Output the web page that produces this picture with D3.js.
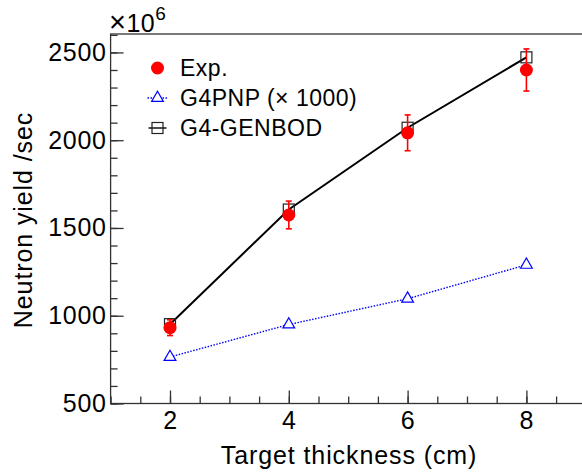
<!doctype html>
<html lang="en">
<head>
  <meta charset="utf-8">
  <style>
    body { margin: 0; background-color: white; }
    svg { display: block; background-color: white; font-family: "Liberation Sans", Arial, sans-serif; }
    .axis text { font-size: 25px; letter-spacing: 0.7px; fill: black; }
    .axis path, .axis line { stroke: #333; stroke-width: 1.3px; }
    .title { font-size: 25px; letter-spacing: 0.9px; }
  </style>
</head>
<body>
<script src="https://d3js.org/d3.v7.min.js"></script>
<script>
var width = 582,
    height = 474;

// thickness in cm
var thickness = [2, 4, 6, 8];
// measured neutron yield (x10^6 /sec) and its errors
var expYield = [932, 1574, 2042, 2400];
var expErr = [45, 79, 102, 120];
// simulations
var pnpYield = [765, 950, 1097, 1290];
var genbodYield = [952, 1605, 2071, 2472];

var xTicks = [2, 4, 6, 8];
var yTicks = [500, 1000, 1500, 2000, 2500];

var legendNames = ["Exp.", "G4PNP (\u00d7 1000)", "G4-GENBOD"];

var x = d3.scaleLinear().domain([1, 9]).range([110.6, 585.8]);
var y = d3.scaleLinear().domain([500, 2605]).range([403.5, 34]);

var svg = d3.select("body").append("svg")
  .attr("width", width)
  .attr("height", height);

// frame
svg.append("rect")
  .attr("x", x(1)).attr("y", y(2605))
  .attr("width", x(9) - x(1)).attr("height", y(500) - y(2605))
  .attr("fill", "none").attr("stroke", "#333").attr("stroke-width", 1.3);

// minor ticks
svg.append("g").attr("class", "axis")
  .attr("transform", "translate(0," + y(500) + ")")
  .call(d3.axisBottom(x).tickValues(d3.range(1, 9.01, 0.5)).tickSize(-7).tickFormat(""))
  .call(function(g) { g.select(".domain").remove(); });
svg.append("g").attr("class", "axis")
  .attr("transform", "translate(" + x(1) + ",0)")
  .call(d3.axisLeft(y).tickValues(d3.range(500, 2601, 100)).tickSize(-7).tickFormat(""))
  .call(function(g) { g.select(".domain").remove(); });

// major ticks
svg.append("g").attr("class", "axis")
  .attr("transform", "translate(0," + y(500) + ")")
  .call(d3.axisBottom(x).tickValues(xTicks).tickSizeInner(-13).tickSizeOuter(0).tickPadding(8))
  .call(function(g) { g.select(".domain").remove(); });
svg.append("g").attr("class", "axis")
  .attr("transform", "translate(" + x(1) + ",0)")
  .call(d3.axisLeft(y).tickValues(yTicks).tickFormat(d3.format("d"))
    .tickSizeInner(-13).tickSizeOuter(0).tickPadding(4))
  .call(function(g) { g.select(".domain").remove(); });

// exponent
var expo = svg.append("text")
  .attr("x", 109).attr("y", 31.5)
  .style("letter-spacing", "0.5px");
expo.append("tspan").style("font-size", "29px").text("\u00d7");
expo.append("tspan").style("font-size", "25px").text("10");
expo.append("tspan").attr("dy", -12).style("font-size", "19px").text("6");

// axis titles
svg.append("text")
  .attr("class", "title")
  .attr("x", 349).attr("y", 464)
  .attr("text-anchor", "middle")
  .text("Target thickness (cm)");

svg.append("text")
  .attr("class", "title")
  .attr("transform", "translate(31.5,220)rotate(-90)")
  .attr("text-anchor", "middle")
  .text("Neutron yield /sec");

// G4PNP dotted line
var line = d3.line()
  .x(function(d) { return x(d[0]); })
  .y(function(d) { return y(d[1]); });

svg.append("path")
  .datum(d3.zip(thickness, pnpYield))
  .attr("d", line)
  .attr("fill", "none")
  .attr("stroke", "#0000ff")
  .attr("stroke-width", 1.4)
  .attr("stroke-dasharray", "1.5,1.5");

var tri = d3.symbol().type(d3.symbolTriangle).size(60);
svg.selectAll(".pnp")
  .data(d3.zip(thickness, pnpYield))
  .enter().append("path")
  .attr("class", "pnp")
  .attr("d", tri)
  .attr("transform", function(d) { return "translate(" + x(d[0]) + "," + y(d[1]) + ")"; })
  .attr("fill", "white")
  .attr("stroke", "#0000ff")
  .attr("stroke-width", 1.2);

// GENBOD solid line
svg.append("path")
  .datum(d3.zip(thickness, genbodYield))
  .attr("d", line)
  .attr("fill", "none")
  .attr("stroke", "black")
  .attr("stroke-width", 2);

svg.selectAll(".gen")
  .data(d3.zip(thickness, genbodYield))
  .enter().append("rect")
  .attr("class", "gen")
  .attr("x", function(d) { return x(d[0]) - 5.5; })
  .attr("y", function(d) { return y(d[1]) - 5.5; })
  .attr("width", 11).attr("height", 11)
  .attr("fill", "none")
  .attr("stroke", "#222")
  .attr("stroke-width", 1.2);

// experimental points with error bars
var ex = svg.selectAll(".exp")
  .data(d3.zip(thickness, expYield, expErr))
  .enter().append("g")
  .attr("class", "exp");

ex.append("line")
  .attr("x1", function(d) { return x(d[0]); })
  .attr("x2", function(d) { return x(d[0]); })
  .attr("y1", function(d) { return y(d[1] - d[2]); })
  .attr("y2", function(d) { return y(d[1] + d[2]); })
  .attr("stroke", "#ff0000").attr("stroke-width", 1.6);
[-1, 1].forEach(function(s) {
  ex.append("line")
    .attr("x1", function(d) { return x(d[0]) - 3; })
    .attr("x2", function(d) { return x(d[0]) + 3; })
    .attr("y1", function(d) { return y(d[1] + s * d[2]); })
    .attr("y2", function(d) { return y(d[1] + s * d[2]); })
    .attr("stroke", "#ff0000").attr("stroke-width", 1.6);
});
ex.append("circle")
  .attr("cx", function(d) { return x(d[0]); })
  .attr("cy", function(d) { return y(d[1]); })
  .attr("r", 6.5)
  .attr("fill", "#ff0000");

// legend
var lx = 157.5, ly = [68, 98, 128];
svg.append("circle").attr("cx", lx).attr("cy", ly[0]).attr("r", 6.5).attr("fill", "#ff0000");
svg.append("line")
  .attr("x1", lx - 10).attr("x2", lx + 10).attr("y1", ly[1]).attr("y2", ly[1])
  .attr("stroke", "#0000ff").attr("stroke-width", 1.4).attr("stroke-dasharray", "1.5,1.5");
svg.append("path").attr("d", tri)
  .attr("transform", "translate(" + lx + "," + ly[1] + ")")
  .attr("fill", "white").attr("stroke", "#0000ff").attr("stroke-width", 1.2);
svg.append("line")
  .attr("x1", lx - 9).attr("x2", lx + 9).attr("y1", ly[2]).attr("y2", ly[2])
  .attr("stroke", "black").attr("stroke-width", 1.4);
svg.append("rect")
  .attr("x", lx - 5.5).attr("y", ly[2] - 5.5).attr("width", 11).attr("height", 11)
  .attr("fill", "none").attr("stroke", "#222").attr("stroke-width", 1.2);

svg.selectAll(".leg")
  .data(legendNames)
  .enter().append("text")
  .attr("class", "leg")
  .attr("x", 180)
  .attr("y", function(d, i) { return ly[i]; })
  .attr("dy", "0.35em")
  .style("font-size", "23px")
  .style("letter-spacing", "0.5px")
  .text(function(d) { return d; });
</script>
</body>
</html>
